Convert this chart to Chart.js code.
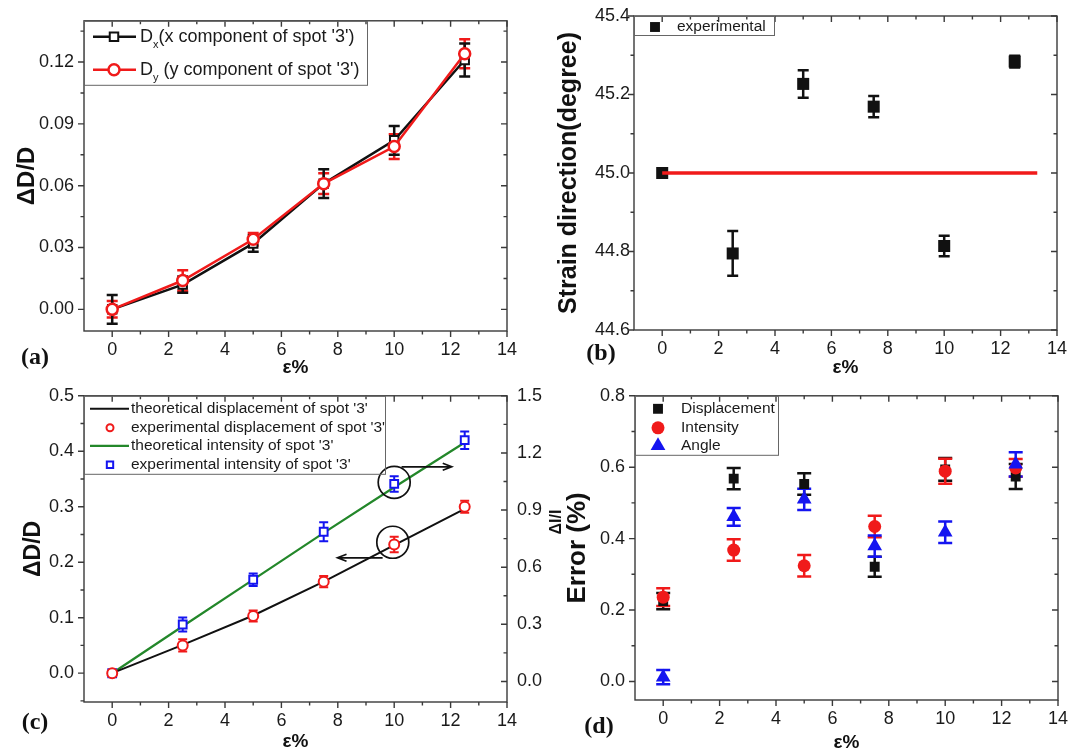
<!DOCTYPE html>
<html>
<head>
<meta charset="utf-8">
<script src="https://cdn.jsdelivr.net/npm/chart.js@4.4.0/dist/chart.umd.min.js"></script>
<style>
  body { margin: 0; background: #fff; width: 1085px; height: 750px; position: relative; overflow: hidden; }
  canvas { position: absolute; }
</style>
</head>
<body>
<canvas id="pa" width="540" height="375" style="left:0;top:0"></canvas>
<canvas id="pb" width="545" height="375" style="left:540px;top:0"></canvas>
<canvas id="pc" width="560" height="375" style="left:0;top:375px"></canvas>
<canvas id="pd" width="545" height="375" style="left:540px;top:375px"></canvas>
<script>
// shared x values (strain, %)
const strain = [0, 2.5, 5, 7.5, 10, 12.5];
const xTicks = [0, 2, 4, 6, 8, 10, 12, 14];

// (a) relative spot displacement
const dxVals = [0.000, 0.012, 0.032, 0.061, 0.082, 0.121];
const dxErr  = [0.007, 0.004, 0.004, 0.007, 0.007, 0.008];
const dyVals = [0.000, 0.014, 0.034, 0.061, 0.079, 0.124];
const dyErr  = [0.004, 0.005, 0.003, 0.005, 0.006, 0.007];
const aYTicks = [0, 0.03, 0.06, 0.09, 0.12];

// (b) strain direction
const dirVals = [45.0, 44.795, 45.227, 45.169, 44.814, 45.284];
const dirErr  = [0, 0.057, 0.035, 0.027, 0.026, 0.015];
const refX = [0, 13.3];
const refY = [45, 45];
const bYTicks = [44.6, 44.8, 45.0, 45.2, 45.4];

// (c) theory vs experiment
const theoDisp = [0, 0.051, 0.104, 0.165, 0.231, 0.296];
const expDisp  = [0, 0.050, 0.103, 0.165, 0.232, 0.300];
const expDispErr = [0, 0.011, 0.010, 0.010, 0.014, 0.011];
const theoInt = [0.043, 0.29, 0.535, 0.78, 1.02, 1.255];
const expInt  = [0.043, 0.299, 0.534, 0.786, 1.037, 1.267];
const expIntErr = [0, 0.037, 0.033, 0.05, 0.041, 0.046];
const cYTicks = [0, 0.1, 0.2, 0.3, 0.4, 0.5];
const cY2Ticks = [0, 0.3, 0.6, 0.9, 1.2, 1.5];

// (d) errors
const errDisp = [0.225, 0.568, 0.553, 0.321, 0.594, 0.574];
const errDispE = [0.023, 0.03, 0.03, 0.028, 0.032, 0.035];
const errInt = [0.236, 0.368, 0.324, 0.434, 0.589, 0.598];
const errIntE = [0.025, 0.03, 0.03, 0.03, 0.035, 0.025];
const errAng = [0.012, 0.461, 0.51, 0.379, 0.418, 0.608];
const errAngE = [0.02, 0.025, 0.03, 0.03, 0.03, 0.034];
const dYTicks = [0, 0.2, 0.4, 0.6, 0.8];

const SANS = "'Liberation Sans', Arial, Helvetica, sans-serif";
const SERIF = "'Liberation Serif', 'Times New Roman', serif";
const RED = '#f01a1a', BLUE = '#1414f0', GREEN = '#23872a', INK = '#1a1a1a';

const pts = (xs, ys) => xs.map((x, i) => ({x: x, y: ys[i]}));

function minorOf(ticks, min, max) {
  const step = ticks[1] - ticks[0];
  const out = [];
  for (let v = ticks[0] - step / 2; v < max; v += step) {
    if (v > min + 1e-9 && v < max - 1e-9) out.push(v);
  }
  return out;
}

// frame with origin-style ticks: outward on left/bottom, inward on top/right
const framePlugin = {
  id: 'frame',
  afterDatasetsDraw(chart, args, opts) {
    const {ctx, chartArea: a, scales} = chart;
    const xs = scales.x, ys = scales.y, rs = scales[opts.right || 'y'];
    const vals = s => s.ticks.map(t => t.value);
    ctx.save();
    ctx.strokeStyle = '#3a3a3a';
    ctx.lineWidth = 1.4;
    ctx.strokeRect(a.left, a.top, a.right - a.left, a.bottom - a.top);
    ctx.beginPath();
    [[vals(xs), 6], [minorOf(vals(xs), xs.min, xs.max), 3.5]].forEach(([vs, len]) => vs.forEach(v => {
      const p = xs.getPixelForValue(v);
      ctx.moveTo(p, a.bottom); ctx.lineTo(p, a.bottom + len);
      ctx.moveTo(p, a.top); ctx.lineTo(p, a.top + len);
    }));
    [[vals(ys), 6], [minorOf(vals(ys), ys.min, ys.max), 3.5]].forEach(([vs, len]) => vs.forEach(v => {
      const p = ys.getPixelForValue(v);
      ctx.moveTo(a.left, p); ctx.lineTo(a.left - len, p);
    }));
    [[vals(rs), 6], [minorOf(vals(rs), rs.min, rs.max), 3.5]].forEach(([vs, len]) => vs.forEach(v => {
      const p = rs.getPixelForValue(v);
      ctx.moveTo(a.right, p); ctx.lineTo(a.right - len, p);
    }));
    ctx.stroke();
    ctx.restore();
  }
};

// vertical error bars from dataset.errors
const errorBars = {
  id: 'errorBars',
  beforeDatasetsDraw(chart) {
    const ctx = chart.ctx;
    chart.data.datasets.forEach((ds, i) => {
      if (!ds.errors) return;
      const meta = chart.getDatasetMeta(i);
      const ys = chart.scales[meta.yAxisID];
      ctx.save();
      ctx.strokeStyle = ds.errColor;
      ctx.lineWidth = ds.errWidth || 2;
      meta.data.forEach((pt, j) => {
        const e = ds.errors[j];
        if (!e) return;
        const v = ds.data[j].y;
        const t = ys.getPixelForValue(v + e), b = ys.getPixelForValue(v - e);
        const c = ds.capW / 2;
        ctx.beginPath();
        ctx.moveTo(pt.x, t); ctx.lineTo(pt.x, b);
        ctx.moveTo(pt.x - c, t); ctx.lineTo(pt.x + c, t);
        ctx.moveTo(pt.x - c, b); ctx.lineTo(pt.x + c, b);
        ctx.stroke();
      });
      ctx.restore();
    });
  }
};

// boxed legend in the upper-left corner of the plot
const boxLegend = {
  id: 'boxLegend',
  afterDraw(chart, args, o) {
    if (!o.items) return;
    const {ctx, chartArea: a} = chart;
    const x0 = a.left, y0 = a.top;
    ctx.save();
    ctx.strokeStyle = '#666';
    ctx.lineWidth = 1;
    ctx.strokeRect(x0 + 0.5, y0 + 0.5, o.w, o.h);
    ctx.textBaseline = 'middle';
    ctx.textAlign = 'left';
    o.items.forEach((it, i) => {
      const cy = y0 + o.rows[i];
      if (it.line) {
        ctx.strokeStyle = it.line;
        ctx.lineWidth = it.lw;
        ctx.beginPath();
        ctx.moveTo(x0 + o.line[0], cy); ctx.lineTo(x0 + o.line[1], cy);
        ctx.stroke();
      }
      if (it.style) {
        ctx.fillStyle = it.fill;
        ctx.strokeStyle = it.color;
        ctx.lineWidth = it.bw;
        Chart.helpers.drawPoint(ctx, {pointStyle: it.style, radius: it.r, rotation: 0, borderWidth: it.bw}, x0 + o.mx, cy);
      }
      ctx.fillStyle = INK;
      ctx.font = o.font;
      const tx = x0 + o.tx;
      ctx.fillText(it.label, tx, cy);
      if (it.sub) {
        const w = ctx.measureText(it.label).width;
        ctx.font = o.subFont;
        ctx.fillText(it.sub, tx + w, cy + 8);
        const w2 = ctx.measureText(it.sub).width;
        ctx.font = o.font;
        ctx.fillText(it.rest, tx + w + w2, cy);
      }
    });
    ctx.restore();
  }
};

// circles and arrows in panel (c), placed in data units
const callouts = {
  id: 'callouts',
  afterDatasetsDraw(chart, args, o) {
    if (!o.circles) return;
    const {ctx, scales: {x, y}} = chart;
    ctx.save();
    ctx.strokeStyle = '#111';
    ctx.lineWidth = 1.7;
    o.circles.forEach(c => {
      ctx.beginPath();
      ctx.arc(x.getPixelForValue(c.x), y.getPixelForValue(c.y), c.r, 0, 2 * Math.PI);
      ctx.stroke();
    });
    o.arrows.forEach(ar => {
      const x0 = x.getPixelForValue(ar.x0), x1 = x.getPixelForValue(ar.x1), py = y.getPixelForValue(ar.y);
      const d = Math.sign(x1 - x0);
      ctx.beginPath();
      ctx.moveTo(x0, py); ctx.lineTo(x1, py);
      ctx.moveTo(x1 - d * 9, py - 3.5); ctx.lineTo(x1, py); ctx.lineTo(x1 - d * 9, py + 3.5);
      ctx.stroke();
    });
    ctx.restore();
  }
};

// free text: panel letters, extra axis text
const texts = {
  id: 'texts',
  afterDraw(chart, args, o) {
    if (!o.items) return;
    const ctx = chart.ctx;
    o.items.forEach(t => {
      ctx.save();
      ctx.font = t.font;
      ctx.fillStyle = '#111';
      ctx.textAlign = 'center';
      ctx.textBaseline = 'middle';
      ctx.translate(t.x, t.y);
      if (t.rot) ctx.rotate(t.rot);
      ctx.fillText(t.text, 0, 0);
      ctx.restore();
    });
  }
};

Chart.register(framePlugin, errorBars, boxLegend, callouts, texts);

const noGrid = {display: false, drawTicks: false, tickLength: 0};

function xAxis(h, pb) {
  return {
    type: 'linear', min: -1, max: 14,
    afterFit: s => { s.height = h; },
    afterBuildTicks: s => { s.ticks = xTicks.map(v => ({value: v})); },
    grid: noGrid,
    border: {display: false},
    ticks: {font: {family: SANS, size: 18}, color: INK, padding: 8, maxRotation: 0, autoSkip: false},
    title: {display: true, text: 'ε%', color: '#111', font: {family: SANS, size: 19, weight: 'bold'}, padding: {top: 0, bottom: pb}}
  };
}

function yAxis(pos, w, min, max, tickVals, digits, pad, title, tsize, tpad) {
  return {
    type: 'linear', position: pos, min: min, max: max,
    afterFit: s => { s.width = w; },
    afterBuildTicks: s => { s.ticks = tickVals.map(v => ({value: v})); },
    grid: noGrid,
    border: {display: false},
    ticks: {font: {family: SANS, size: 18}, color: INK, padding: pad, callback: v => Number(v).toFixed(digits)},
    title: {display: !!title, text: title || '', color: '#111', font: {family: SANS, size: tsize || 20, weight: 'bold'}, padding: {top: tpad || 0, bottom: 0}}
  };
}

const common = {
  responsive: false,
  animation: false,
  devicePixelRatio: 1,
  events: []
};

// ---------- (a)
new Chart(document.getElementById('pa'), {
  type: 'scatter',
  data: {
    datasets: [
      {
        data: pts(strain, dyVals), showLine: true, order: 1,
        borderColor: RED, borderWidth: 2.5, pointStyle: 'circle', pointRadius: 5.5,
        pointBorderColor: RED, pointBackgroundColor: '#fff', pointBorderWidth: 2.5,
        errors: dyErr, errColor: RED, errWidth: 2.5, capW: 11
      },
      {
        data: pts(strain, dxVals), showLine: true, order: 2,
        borderColor: '#111', borderWidth: 2.5, pointStyle: 'rect', pointRadius: 6,
        pointBorderColor: '#111', pointBackgroundColor: '#fff', pointBorderWidth: 2,
        errors: dxErr, errColor: '#111', errWidth: 2.5, capW: 11
      }
    ]
  },
  options: Object.assign({}, common, {
    layout: {padding: {left: 0, top: 17, right: 33, bottom: 0}},
    scales: {
      x: xAxis(44, -4),
      y: yAxis('left', 84, -0.0105, 0.14, aYTicks, 2, 10, 'ΔD/D', 24, 13)
    },
    plugins: {
      legend: {display: false}, tooltip: {enabled: false},
      boxLegend: {
        w: 283, h: 64, rows: [16, 49], line: [9, 52], mx: 30, tx: 56,
        font: '18px ' + SANS, subFont: '11px ' + SANS,
        items: [
          {label: 'D', sub: 'x', rest: "(x component of spot '3')", line: '#111', lw: 2.5, style: 'rect', r: 6, bw: 2, color: '#111', fill: '#fff'},
          {label: 'D', sub: 'y', rest: " (y component of spot '3')", line: RED, lw: 2.5, style: 'circle', r: 5.5, bw: 2.5, color: RED, fill: '#fff'}
        ]
      },
      texts: {items: [{text: '(a)', x: 35, y: 358, font: 'bold 24px ' + SERIF}]}
    }
  })
});

// ---------- (b)
new Chart(document.getElementById('pb'), {
  type: 'scatter',
  data: {
    datasets: [
      {
        data: pts(refX, refY), showLine: true, order: 1,
        borderColor: RED, borderWidth: 3.5, pointRadius: 0
      },
      {
        data: pts(strain, dirVals), order: 2,
        pointStyle: 'rect', pointRadius: 8.5, pointBackgroundColor: '#111', pointBorderColor: '#111', pointBorderWidth: 0,
        errors: dirErr, errColor: '#111', errWidth: 2.5, capW: 11
      }
    ]
  },
  options: Object.assign({}, common, {
    layout: {padding: {left: 0, top: 16, right: 28, bottom: 0}},
    scales: {
      x: xAxis(45, -4),
      y: yAxis('left', 94, 44.6, 45.4, bYTicks, 1, 4, 'Strain direction(degree)', 25, 14)
    },
    plugins: {
      legend: {display: false}, tooltip: {enabled: false},
      boxLegend: {
        w: 140, h: 19, rows: [11], line: [0, 0], mx: 21, tx: 43,
        font: '15.5px ' + SANS, subFont: '10px ' + SANS,
        items: [{label: 'experimental', style: 'rect', r: 7, bw: 0, color: '#111', fill: '#111'}]
      },
      texts: {items: [{text: '(b)', x: 61, y: 354, font: 'bold 24px ' + SERIF}]}
    }
  })
});

// ---------- (c)
new Chart(document.getElementById('pc'), {
  type: 'scatter',
  data: {
    datasets: [
      {
        data: pts(strain, expDisp), order: 1,
        pointStyle: 'circle', pointRadius: 5, pointBorderColor: RED, pointBackgroundColor: '#fff', pointBorderWidth: 2,
        errors: expDispErr, errColor: RED, errWidth: 2, capW: 9
      },
      {
        data: pts(strain, expInt), yAxisID: 'y2', order: 1,
        pointStyle: 'rect', pointRadius: 5.5, pointBorderColor: BLUE, pointBackgroundColor: '#fff', pointBorderWidth: 2,
        errors: expIntErr, errColor: BLUE, errWidth: 2, capW: 9
      },
      {
        data: pts(strain, theoDisp), showLine: true, order: 3,
        borderColor: '#111', borderWidth: 2, pointRadius: 0
      },
      {
        data: pts(strain, theoInt), yAxisID: 'y2', showLine: true, order: 3,
        borderColor: GREEN, borderWidth: 2.2, pointRadius: 0
      }
    ]
  },
  options: Object.assign({}, common, {
    layout: {padding: {left: 0, top: 15, right: 0, bottom: 0}},
    scales: {
      x: xAxis(48, -3),
      y: yAxis('left', 84, -0.052, 0.5, cYTicks, 1, 10, 'ΔD/D', 23, 20),
      y2: yAxis('right', 53, -0.108, 1.5, cY2Ticks, 1, 10, '', 20, 0)
    },
    plugins: {
      legend: {display: false}, tooltip: {enabled: false},
      frame: {right: 'y2'},
      boxLegend: {
        w: 301, h: 78, rows: [13, 32, 50, 69], line: [6, 45], mx: 26, tx: 47,
        font: '15.5px ' + SANS, subFont: '10px ' + SANS,
        items: [
          {label: "theoretical displacement of spot '3'", line: '#111', lw: 2},
          {label: "experimental displacement of spot '3'", style: 'circle', r: 3.5, bw: 2, color: RED, fill: '#fff'},
          {label: "theoretical intensity of spot '3'", line: GREEN, lw: 2.2},
          {label: "experimental intensity of spot '3'", style: 'rect', r: 4.5, bw: 2, color: BLUE, fill: '#fff'}
        ]
      },
      callouts: {
        circles: [{x: 10.0, y: 0.344, r: 16}, {x: 9.95, y: 0.236, r: 16}],
        arrows: [{x0: 10.26, x1: 12.04, y: 0.372}, {x0: 9.59, x1: 7.99, y: 0.208}]
      },
      texts: {items: [{text: '(c)', x: 35, y: 348, font: 'bold 24px ' + SERIF}]}
    }
  })
});

// ---------- (d)
new Chart(document.getElementById('pd'), {
  type: 'scatter',
  data: {
    datasets: [
      {
        data: pts(strain, errDisp), order: 3,
        pointStyle: 'rect', pointRadius: 7, pointBackgroundColor: '#111', pointBorderWidth: 0,
        errors: errDispE, errColor: '#111', errWidth: 2.5, capW: 14
      },
      {
        data: pts(strain, errInt), order: 2,
        pointStyle: 'circle', pointRadius: 6.5, pointBackgroundColor: RED, pointBorderWidth: 0,
        errors: errIntE, errColor: RED, errWidth: 2.5, capW: 14
      },
      {
        data: pts(strain, errAng), order: 1,
        pointStyle: 'triangle', pointRadius: 8.5, pointBackgroundColor: BLUE, pointBorderWidth: 0,
        errors: errAngE, errColor: BLUE, errWidth: 2.5, capW: 14
      }
    ]
  },
  options: Object.assign({}, common, {
    layout: {padding: {left: 0, top: 15, right: 27, bottom: 0}},
    scales: {
      x: xAxis(50, -4),
      y: yAxis('left', 95, -0.052, 0.8, dYTicks, 1, 10, 'Error (%)', 26, 22)
    },
    plugins: {
      legend: {display: false}, tooltip: {enabled: false},
      boxLegend: {
        w: 143, h: 59, rows: [13, 32, 50], line: [0, 0], mx: 23, tx: 46,
        font: '15.5px ' + SANS, subFont: '10px ' + SANS,
        items: [
          {label: 'Displacement', style: 'rect', r: 7, bw: 0, color: '#111', fill: '#111'},
          {label: 'Intensity', style: 'circle', r: 6.5, bw: 0, color: RED, fill: RED},
          {label: 'Angle', style: 'triangle', r: 8.5, bw: 0, color: BLUE, fill: BLUE}
        ]
      },
      texts: {items: [
        {text: 'ΔI/I', x: 16.5, y: 147, rot: -Math.PI / 2, font: 'bold 16px ' + SANS},
        {text: '(d)', x: 59, y: 352, font: 'bold 24px ' + SERIF}
      ]}
    }
  })
});
</script>
</body>
</html>
